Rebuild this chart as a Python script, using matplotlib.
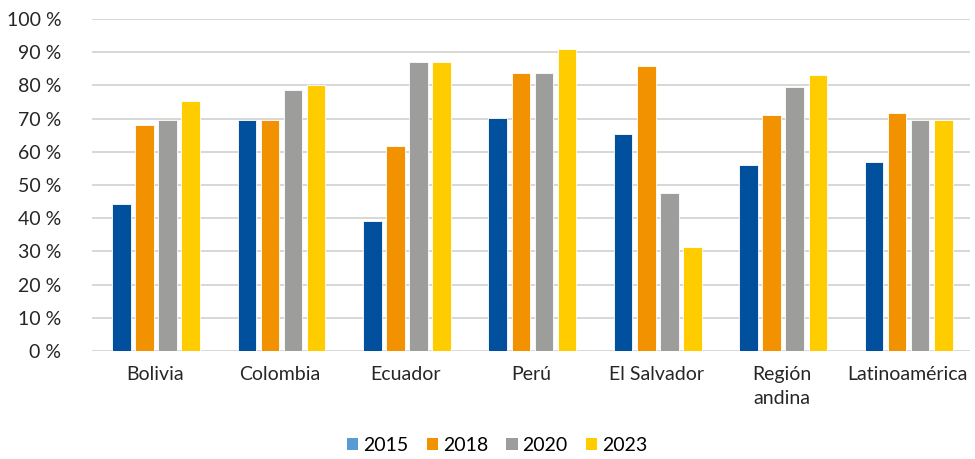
import numpy as np
import matplotlib
matplotlib.use("Agg")
from matplotlib import pyplot as plt
from matplotlib.patches import Patch

plt.rcParams["font.family"] = ["Lato", "DejaVu Sans"]

CATEGORIES = ["Bolivia", "Colombia", "Ecuador", "Perú", "El Salvador",
              "Región\nandina", "Latinoamérica"]
YEARS = ["2015", "2018", "2020", "2023"]
V2015 = [44.2, 69.6, 39.2, 70.2, 65.3, 56.1, 56.8]
V2018 = [68.1, 69.6, 61.7, 83.7, 85.8, 71.0, 71.7]
V2020 = [69.6, 78.7, 87.0, 83.7, 47.6, 79.4, 69.6]
V2023 = [75.2, 80.1, 87.0, 91.0, 31.3, 83.0, 69.6]

BAR_COLORS = ["#00509e", "#f39200", "#9d9d9c", "#ffcc00"]
LEGEND_COLORS = ["#5b9bd5", "#f39200", "#9d9d9c", "#ffcc00"]


def main() -> int:
    fig = plt.figure(figsize=(9.75, 4.59), dpi=100)
    ax = fig.add_axes([0.0944, 0.2353, 0.9006, 0.7233])

    x = np.arange(len(CATEGORIES))
    width = 0.148
    step = 0.184
    series = [V2015, V2018, V2020, V2023]
    for i, vals in enumerate(series):
        ax.bar(x + (i - 1.5) * step + 0.01, vals, width, color=BAR_COLORS[i],
               edgecolor="white", linewidth=0.6, zorder=3)

    ax.set_xlim(-0.5, len(CATEGORIES) - 0.5)
    ax.set_ylim(0, 100)
    ax.set_yticks(np.arange(0, 101, 10))
    ax.set_yticklabels([f"{v} %" for v in range(0, 101, 10)])
    ax.set_xticks(x)
    ax.set_xticklabels(CATEGORIES, linespacing=1.5)
    ax.tick_params(axis="y", length=0, pad=22, labelsize=14, colors="#262626")
    ax.tick_params(axis="x", length=0, pad=11, labelsize=14, colors="#262626")
    ax.grid(axis="y", color="#d4d4d4", linewidth=1.3, zorder=0)
    for s in ax.spines.values():
        s.set_visible(False)

    handles = [Patch(facecolor=c, label=y) for c, y in zip(LEGEND_COLORS, YEARS)]
    fig.legend(handles=handles, loc="center", bbox_to_anchor=(0.51, 0.03),
               ncol=4, frameon=False, fontsize=14, handlelength=0.57,
               handleheight=0.57, handletextpad=0.25, columnspacing=0.95)

    fig.savefig("out.png", dpi=100)
    plt.close(fig)
    return 0


if __name__ == "__main__":
    raise SystemExit(main())
